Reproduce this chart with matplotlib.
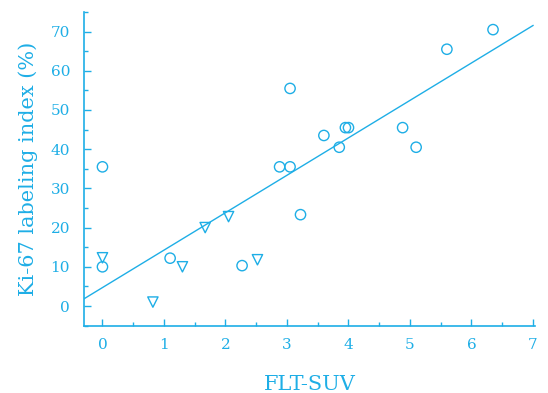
import matplotlib
matplotlib.use('Agg')
import matplotlib.pyplot as plt
import numpy as np
from matplotlib.ticker import MultipleLocator

col = '#1eaee6'
plt.rcParams['font.family'] = ['DejaVu Serif']

# circles
circ_x = [0.0, 0.0, 1.1, 2.27, 2.88, 3.05, 3.05, 3.22, 3.6, 3.85, 3.95, 4.0, 4.88, 5.1, 5.6, 6.35]
circ_y = [35.5, 10.0, 12.2, 10.3, 35.5, 55.5, 35.5, 23.3, 43.5, 40.5, 45.5, 45.5, 45.5, 40.5, 65.5, 70.5]
# triangles
tri_x = [0.0, 0.82, 1.3, 1.67, 2.05, 2.52]
tri_y = [12.3, 1.0, 10.0, 20.0, 22.8, 11.8]
# regression line
slope, intercept = 9.55, 4.7
line_x = [-0.3, 7.0]

fig = plt.figure(figsize=(5.48, 3.93), dpi=100)
ax = fig.add_axes([0.1533, 0.1705, 0.8227, 0.799])

ax.scatter(circ_x, circ_y, s=55, facecolors='none', edgecolors=col, linewidths=1.0, marker='o')
ax.scatter(tri_x, tri_y, s=55, facecolors='none', edgecolors=col, linewidths=1.0, marker='v')
lx = np.array(line_x)
ax.plot(lx, slope * lx + intercept, color=col, lw=1.0)

ax.set_xlim(-0.3, 7.03)
ax.set_ylim(-5.1, 75)
ax.xaxis.set_major_locator(MultipleLocator(1))
ax.xaxis.set_minor_locator(MultipleLocator(0.5))
ax.yaxis.set_major_locator(MultipleLocator(10))
ax.yaxis.set_minor_locator(MultipleLocator(5))
ax.set_yticks(range(0, 71, 10))

for s in ['top', 'right']:
    ax.spines[s].set_visible(False)
for s in ['left', 'bottom']:
    ax.spines[s].set_color(col)
    ax.spines[s].set_linewidth(1.2)

ax.tick_params(which='both', direction='in', colors=col, labelcolor=col, labelsize=11)
ax.tick_params(which='major', length=5, width=1.0)
ax.tick_params(which='minor', length=3, width=1.0)
ax.tick_params(axis='x', pad=9)
ax.tick_params(axis='y', pad=10)

ax.set_xlabel('FLT-SUV', color=col, fontsize=15, labelpad=16)
ax.set_ylabel('Ki-67 labeling index (%)', color=col, fontsize=15, labelpad=9)

fig.savefig('out.png', dpi=100)
